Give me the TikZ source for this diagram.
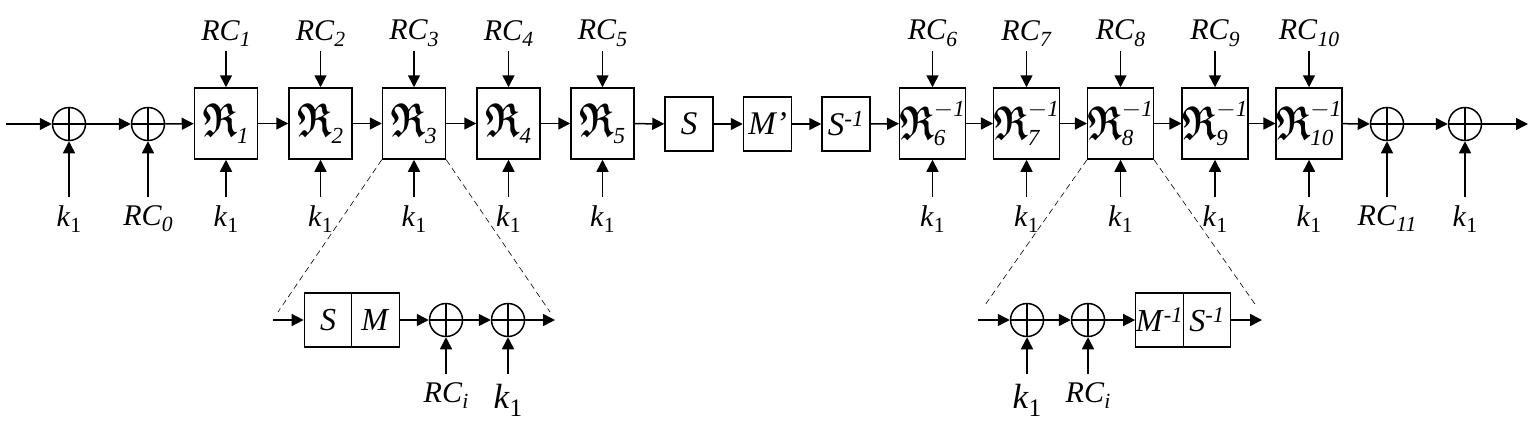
\documentclass[tikz,border=0pt]{standalone}
\usepackage{amssymb}
\usepackage{bm}
\usepackage{fontspec}
\setmainfont{Liberation Serif}
\usetikzlibrary{arrows.meta}
\DeclareMathSizes{38}{38}{23}{16}

\tikzset{
  rnd/.style={draw,line width=1.5pt,minimum width=63pt,minimum height=71pt,inner sep=0pt,font=\fontsize{38}{40}\selectfont},
  blk/.style={draw,line width=1.5pt,minimum width=48pt,minimum height=54pt,inner sep=0pt,font=\fontsize{33}{35}\selectfont},
  half/.style={draw,line width=1.2pt,minimum width=47.5pt,minimum height=54pt,inner sep=0pt,font=\fontsize{32}{34}\selectfont},
  xor/.style={circle,draw,line width=1.5pt,minimum size=33pt,inner sep=0pt,
    path picture={\draw[line width=1.5pt] (path picture bounding box.north) -- (path picture bounding box.south)
      (path picture bounding box.west) -- (path picture bounding box.east);}},
  tlbl/.style={anchor=south,inner xsep=2pt,inner ysep=4pt,font=\fontsize{30}{32}\selectfont},
  blbl/.style={anchor=north,inner xsep=2pt,inner ysep=8pt,font=\fontsize{30}{32}\selectfont},
  biglbl/.style={anchor=north,inner xsep=2pt,inner ysep=10pt,font=\fontsize{35}{37}\selectfont},
  arr/.style={line width=1.5pt,-{Triangle[length=12pt,width=12pt]}},
  zoomln/.style={line width=0.6pt,dash pattern=on 6pt off 4pt}
}
\newcommand{\Rd}{\scalebox{0.92}[1.25]{$\bm{\mathfrak{R}}$}}
\newcommand{\dn}[1]{\raisebox{-0.22em}{\scalebox{0.72}{#1}}}

\begin{document}
\begin{tikzpicture}[x=1pt,y=-1pt]
  \useasboundingbox (0,0) rectangle (1537,434);

  \coordinate (in) at (6,124);
  \node[xor] (x1) at (69,124) {};
  \node[xor] (x2) at (148,124) {};
  \node[rnd] (r1) at (226,123.5) {$\Rd_{\mathit{1}}$};
  \node[rnd] (r2) at (320.5,123.5) {$\Rd_{\mathit{2}}$};
  \node[rnd] (r3) at (414,123.5) {$\Rd_{\mathit{3}}$};
  \node[rnd] (r4) at (508.5,123.5) {$\Rd_{\mathit{4}}$};
  \node[rnd] (r5) at (602.5,123.5) {$\Rd_{\mathit{5}}$};
  \node[blk] (s) at (689,124) {\textit{S}};
  \node[blk] (mp) at (767.5,124) {\textit{M'}};
  \node[blk] (si) at (846,124) {\textit{S}\textsuperscript{\textit{-1}}};
  \node[rnd] (r6) at (932.5,123.5) {$\Rd_{\mathit{6}}^{-\mathit{1}}$};
  \node[rnd] (r7) at (1026.5,123.5) {$\Rd_{\mathit{7}}^{-\mathit{1}}$};
  \node[rnd] (r8) at (1120.5,123.5) {$\Rd_{\mathit{8}}^{-\mathit{1}}$};
  \node[rnd] (r9) at (1215,123.5) {$\Rd_{\mathit{9}}^{-\mathit{1}}$};
  \node[rnd] (r10) at (1309,123.5) {$\Rd_{\mathit{10}}^{-\mathit{1}}$};
  \node[xor] (x3) at (1387,124) {};
  \node[xor] (x4) at (1465,124) {};
  \coordinate (out) at (1528,124);

  \draw[arr] (in) -- (x1);
  \draw[arr] (x1) -- (x2);
  \draw[arr] (x2) -- (r1);
  \draw[arr] (r1) -- (r2);
  \draw[arr] (r2) -- (r3);
  \draw[arr] (r3) -- (r4);
  \draw[arr] (r4) -- (r5);
  \draw[arr] (r5) -- (s);
  \draw[arr] (s) -- (mp);
  \draw[arr] (mp) -- (si);
  \draw[arr] (si) -- (r6);
  \draw[arr] (r6) -- (r7);
  \draw[arr] (r7) -- (r8);
  \draw[arr] (r8) -- (r9);
  \draw[arr] (r9) -- (r10);
  \draw[arr] (r10) -- (x3);
  \draw[arr] (x3) -- (x4);
  \draw[arr] (x4) -- (out);

  \node[tlbl] (t1) at (226,51) {\textit{RC}\dn{\textit{1}}};
  \node[tlbl] (t2) at (320.5,51) {\textit{RC}\dn{\textit{2}}};
  \node[tlbl] (t3) at (414,51) {\textit{RC}\dn{\textit{3}}};
  \node[tlbl] (t4) at (508.5,51) {\textit{RC}\dn{\textit{4}}};
  \node[tlbl] (t5) at (602.5,51) {\textit{RC}\dn{\textit{5}}};
  \node[tlbl] (t6) at (932.5,51) {\textit{RC}\dn{\textit{6}}};
  \node[tlbl] (t7) at (1026.5,51) {\textit{RC}\dn{\textit{7}}};
  \node[tlbl] (t8) at (1120.5,51) {\textit{RC}\dn{\textit{8}}};
  \node[tlbl] (t9) at (1215,51) {\textit{RC}\dn{\textit{9}}};
  \node[tlbl] (t10) at (1309,51) {\textit{RC}\dn{\textit{10}}};
  \draw[arr] (t1) -- (r1);
  \draw[arr] (t2) -- (r2);
  \draw[arr] (t3) -- (r3);
  \draw[arr] (t4) -- (r4);
  \draw[arr] (t5) -- (r5);
  \draw[arr] (t6) -- (r6);
  \draw[arr] (t7) -- (r7);
  \draw[arr] (t8) -- (r8);
  \draw[arr] (t9) -- (r9);
  \draw[arr] (t10) -- (r10);

  \node[blbl] (bx1) at (69,197) {\textit{k}\dn{1}};
  \node[blbl] (bx2) at (148,197) {\textit{RC}\dn{\textit{0}}};
  \node[blbl] (b1) at (226,197) {\textit{k}\dn{1}};
  \node[blbl] (b2) at (320.5,197) {\textit{k}\dn{1}};
  \node[blbl] (b3) at (414,197) {\textit{k}\dn{1}};
  \node[blbl] (b4) at (508.5,197) {\textit{k}\dn{1}};
  \node[blbl] (b5) at (602.5,197) {\textit{k}\dn{1}};
  \node[blbl] (b6) at (932.5,197) {\textit{k}\dn{1}};
  \node[blbl] (b7) at (1026.5,197) {\textit{k}\dn{1}};
  \node[blbl] (b8) at (1120.5,197) {\textit{k}\dn{1}};
  \node[blbl] (b9) at (1215,197) {\textit{k}\dn{1}};
  \node[blbl] (b10) at (1309,197) {\textit{k}\dn{1}};
  \node[blbl] (bx3) at (1387,197) {\textit{RC}\dn{\textit{11}}};
  \node[blbl] (bx4) at (1465,197) {\textit{k}\dn{1}};
  \draw[arr] (bx1) -- (x1);
  \draw[arr] (bx2) -- (x2);
  \draw[arr] (b1) -- (r1);
  \draw[arr] (b2) -- (r2);
  \draw[arr] (b3) -- (r3);
  \draw[arr] (b4) -- (r4);
  \draw[arr] (b5) -- (r5);
  \draw[arr] (b6) -- (r6);
  \draw[arr] (b7) -- (r7);
  \draw[arr] (b8) -- (r8);
  \draw[arr] (b9) -- (r9);
  \draw[arr] (b10) -- (r10);
  \draw[arr] (bx3) -- (x3);
  \draw[arr] (bx4) -- (x4);

  \coordinate (lin) at (273,320);
  \node[half] (ls) at (328,320) {\textit{S}};
  \node[half] (lm) at (375.5,320) {\textit{M}};
  \node[xor] (lx1) at (446,320) {};
  \node[xor] (lx2) at (508,320) {};
  \coordinate (lout) at (555,320);
  \node[blbl] (lrc) at (446,374) {\textit{RC}\dn{\textit{i}}};
  \node[biglbl] (lk) at (508,374) {\textit{k}\dn{1}};
  \draw[arr] (lin) -- (ls);
  \draw[arr] (lm) -- (lx1);
  \draw[arr] (lx1) -- (lx2);
  \draw[arr] (lx2) -- (lout);
  \draw[arr] (lrc) -- (lx1);
  \draw[arr] (lk) -- (lx2);
  \coordinate (lzl) at (278,312);
  \coordinate (lzr) at (550,312);
  \draw[zoomln] (r3.south west) -- (lzl);
  \draw[zoomln] (r3.south east) -- (lzr);

  \coordinate (rin) at (978,320);
  \node[xor] (rx1) at (1027,320) {};
  \node[xor] (rx2) at (1088,320) {};
  \node[half] (rm) at (1159.5,320) {\textit{M}\textsuperscript{\textit{-1}}};
  \node[half] (rs) at (1207,320) {\textit{S}\textsuperscript{\textit{-1}}};
  \coordinate (rout) at (1262,320);
  \node[biglbl] (rk) at (1027,374) {\textit{k}\dn{1}};
  \node[blbl] (rrc) at (1088,374) {\textit{RC}\dn{\textit{i}}};
  \draw[arr] (rin) -- (rx1);
  \draw[arr] (rx1) -- (rx2);
  \draw[arr] (rx2) -- (rm);
  \draw[arr] (rs) -- (rout);
  \draw[arr] (rk) -- (rx1);
  \draw[arr] (rrc) -- (rx2);
  \coordinate (rzl) at (985,305);
  \coordinate (rzr) at (1257,307);
  \draw[zoomln] (r8.south west) -- (rzl);
  \draw[zoomln] (r8.south east) -- (rzr);
\end{tikzpicture}
\end{document}
